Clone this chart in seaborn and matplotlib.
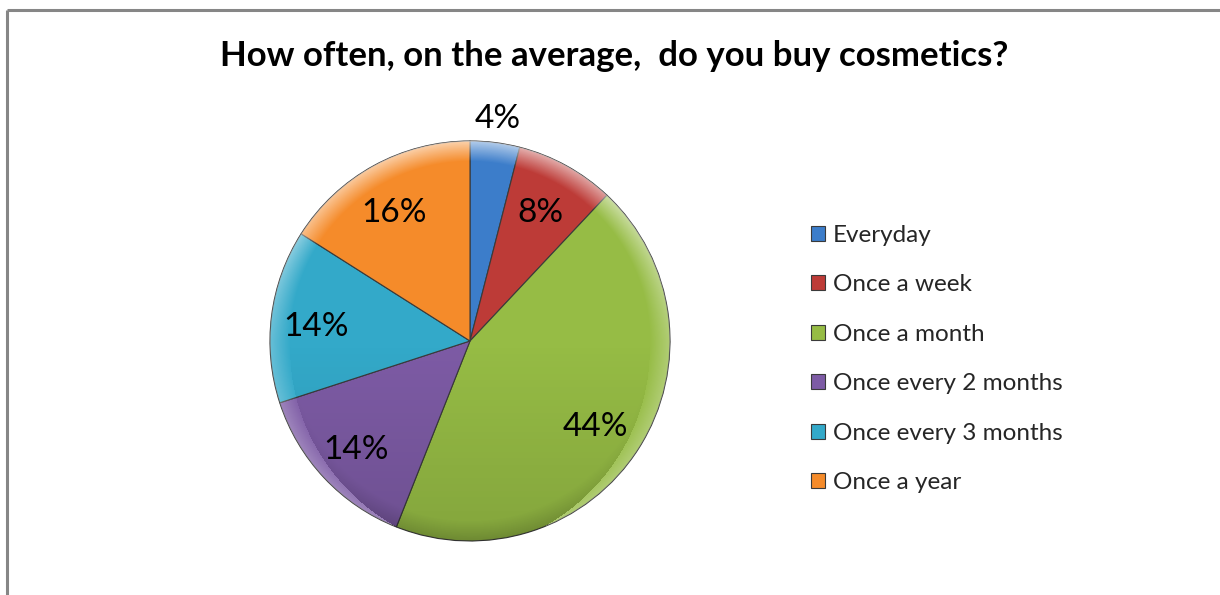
import numpy as np
import matplotlib
matplotlib.use("Agg")
import matplotlib.pyplot as plt
from matplotlib.lines import Line2D
from matplotlib.patches import Circle
from matplotlib.transforms import offset_copy
import seaborn as sns

# Survey answers and their shares (percent)
categories = ["Everyday", "Once a week", "Once a month",
              "Once every 2 months", "Once every 3 months", "Once a year"]
shares = [4, 8, 44, 14, 14, 16]
slice_colors = ["#3C7DCA", "#BD3B37", "#96BC45", "#7D5BA5", "#33A9C9", "#F58B2A"]
title_text = "How often, on the average,  do you buy cosmetics?"

sns.set_theme(style="white")
plt.rcParams["font.family"] = ["Lato", "DejaVu Sans"]
palette = sns.color_palette(slice_colors)

W, H = 1220, 595
fig = plt.figure(figsize=(W / 100, H / 100), dpi=100)
fig.patch.set_facecolor("white")

# pie axes: radius 200 px, centre at (470, 341) px
cx, cy, r = 470, 341, 200
ax = fig.add_axes([(cx - r) / W, (H - cy - r) / H, 2 * r / W, 2 * r / H])

wedges, texts, autotexts = ax.pie(
    shares, colors=palette, startangle=90, counterclock=False, radius=1,
    autopct=lambda p: f"{p:.0f}%", pctdistance=0.76,
    wedgeprops=dict(edgecolor="#3a3a3a", linewidth=0.8),
    textprops=dict(fontsize=24, color="black"),
)

# smallest slice carries its label outside the pie
a0 = np.deg2rad(90 - shares[0] / sum(shares) * 180)
autotexts[0].set_position((1.12 * np.cos(a0), 1.12 * np.sin(a0)))
# centre the digits (not the descender box) on their anchor point
for t in autotexts[1:]:
    t.set_transform(offset_copy(ax.transData, fig=fig, x=-3, y=-5, units="dots"))

# soft bevel lighting over the pie
n = 400
yy, xx = np.mgrid[1:-1:n * 1j, -1:1:n * 1j]
rr = np.sqrt(xx ** 2 + yy ** 2)
shade = np.zeros((n, n, 4))
rim = np.clip((rr - 0.9) / 0.1, 0, 1)
top = np.clip(yy, 0, 1)
light = rim * (0.25 + 0.35 * top)
dark = np.clip(-yy, 0, 1) * 0.12 + rim * np.clip(-yy, 0, 1) * 0.15
shade[..., :3] = np.where(light[..., None] > dark[..., None], 1.0, 0.0)
shade[..., 3] = np.maximum(light, dark)
img = ax.imshow(shade, extent=(-1, 1, -1, 1), zorder=3, interpolation="bilinear")
img.set_clip_path(Circle((0, 0), 1, transform=ax.transData))
ax.set_xlim(-1, 1)
ax.set_ylim(-1, 1)
ax.set_aspect("equal")
ax.axis("off")
for t in autotexts:
    t.set_zorder(5)

fig.text(614 / W, 1 - 56 / H, title_text, ha="center", va="center",
         fontsize=25, fontweight="bold", color="black")

fig.legend(wedges, categories, loc="upper left",
           bbox_to_anchor=(811 / W, 1 - 225 / H), frameon=False,
           fontsize=17.5, handlelength=0.58, handleheight=0.58,
           handletextpad=0.33, labelspacing=1.17, borderpad=0,
           borderaxespad=0)

# chart area border (partly outside the image)
border = dict(color="#868686", linewidth=2.2, solid_capstyle="butt")
fig.add_artist(Line2D([7 / W, 1.0], [1 - 10 / H, 1 - 10 / H], **border))
fig.add_artist(Line2D([7 / W, 7 / W], [0.0, 1 - 10 / H], **border))

fig.savefig("out.png", dpi=100)
